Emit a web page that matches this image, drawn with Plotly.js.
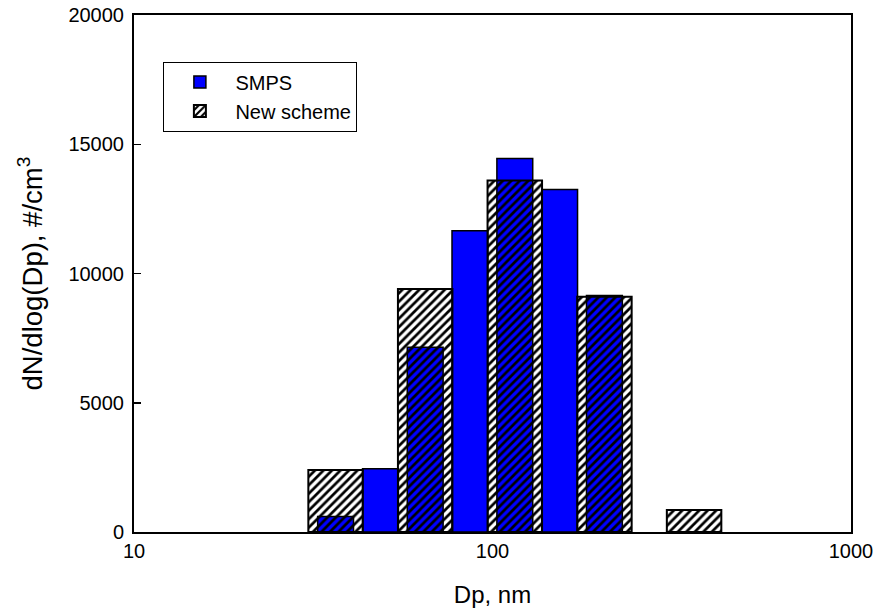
<!DOCTYPE html>
<html>
<head>
<meta charset="utf-8">
<script src="https://cdn.plot.ly/plotly-3.0.1.min.js"></script>
<style>html,body{margin:0;padding:0;background:#fff;}#chart{width:877px;height:611px;}</style>
</head>
<body>
<div id="chart"></div>
<script>
// Particle diameter bin centres (nm) and number concentrations dN/dlog(Dp) (#/cm3)
const smpsDp = [36.5, 48.7, 64.9, 86.5, 115.4, 153.9, 205.2];
const smpsN  = [600, 2450, 7150, 11650, 14450, 13250, 9150];
const newDp  = [36.5, 64.9, 115.4, 205.2, 365.0];
const newN   = [2400, 9400, 13600, 9100, 850];
const xTickVals = [10, 100, 1000];
const xTickText = ['10', '100', '1000'];
const yTickVals = [0, 5000, 10000, 15000, 20000];

// bar extent on the log axis: half-width in decades (style)
function edges(centres, halfDec) {
  const f = Math.pow(10, halfDec);
  const lo = centres.map(c => c / f), hi = centres.map(c => c * f);
  return { x: lo.map((l, i) => (l + hi[i]) / 2), w: lo.map((l, i) => hi[i] - l) };
}
const sB = edges(smpsDp, 0.05);
const nB = edges(newDp, 0.076);

const font = 'Liberation Sans, Arial, sans-serif';
const traces = [
  {
    type: 'bar', name: 'SMPS', x: sB.x, y: smpsN, width: sB.w,
    marker: { color: '#0000ff', line: { color: '#000', width: 1.5 } }
  },
  {
    type: 'bar', name: 'New scheme', x: nB.x, y: newN, width: nB.w,
    marker: {
      color: 'rgba(0,0,0,0)',
      line: { color: '#000', width: 2 },
      pattern: { shape: '/', fgcolor: '#000', bgcolor: 'rgba(0,0,0,0)', size: 6, solidity: 0.45 }
    }
  }
];

const layout = {
  width: 877, height: 611,
  margin: { l: 133.5, r: 25.5, t: 15, b: 79 },
  paper_bgcolor: '#fff', plot_bgcolor: '#fff',
  barmode: 'overlay',
  font: { family: font, color: '#000', size: 19 },
  xaxis: {
    type: 'log', range: [1, 3], tickvals: xTickVals, ticktext: xTickText,
    ticks: '', showgrid: false, zeroline: false,
    showline: true, linecolor: '#000', linewidth: 2, mirror: true,
    tickfont: { family: font, size: 20 },
    title: { text: 'Dp, nm', font: { family: font, size: 24 }, standoff: 25 }
  },
  yaxis: {
    range: [0, 20000], tickvals: yTickVals, tickformat: 'd',
    ticks: 'inside', ticklen: 7, tickwidth: 1.5, tickcolor: '#000',
    showgrid: false, zeroline: false,
    showline: true, linecolor: '#000', linewidth: 2, mirror: true,
    tickfont: { family: font, size: 20 },
    ticklabelstandoff: 4,
    title: { text: 'dN/dlog(Dp), #/cm<sup>3</sup>', font: { family: font, size: 27.5 }, standoff: 18 }
  },
  legend: {
    x: 0.041, y: 0.91, xanchor: 'left', yanchor: 'top',
    bgcolor: '#fff', bordercolor: '#000', borderwidth: 1,
    font: { family: font, size: 20 },
    itemwidth: 61, entrywidth: 187
  },
  showlegend: true
};

Plotly.newPlot('chart', traces, layout, { displayModeBar: false, staticPlot: true });
</script>
</body>
</html>
